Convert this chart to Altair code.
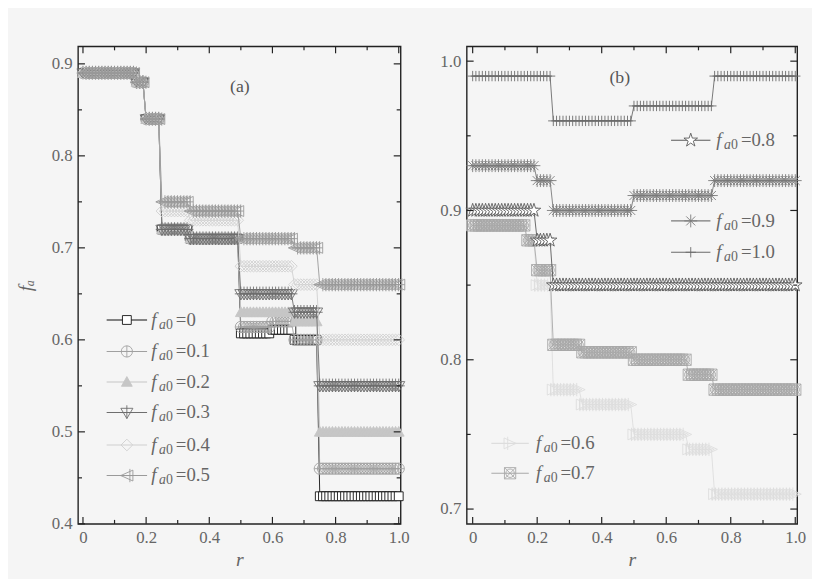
import altair as alt
import pandas as pd
import numpy as np

# ---------------- data ----------------
R_STEP = 0.01  # r is sampled every 0.01 (one marker per sample)

# panel (a): step breakpoints in r, and f_a on each step
A_BREAKS = [0.0, 0.17, 0.20, 0.25, 0.34, 0.50, 0.60, 0.67, 0.75]
A_SERIES = ["0", "0.1", "0.2", "0.3", "0.4", "0.5"]
A_VAL_0 = [0.89, 0.88, 0.84, 0.72, 0.71, 0.607, 0.611, 0.60, 0.43]
A_VAL_01 = [0.89, 0.88, 0.84, 0.72, 0.71, 0.614, 0.620, 0.60, 0.46]
A_VAL_02 = [0.89, 0.88, 0.84, 0.72, 0.71, 0.63, 0.63, 0.62, 0.50]
A_VAL_03 = [0.89, 0.88, 0.84, 0.72, 0.71, 0.65, 0.65, 0.63, 0.55]
A_VAL_04 = [0.89, 0.88, 0.84, 0.74, 0.73, 0.68, 0.68, 0.66, 0.60]
A_VAL_05 = [0.89, 0.88, 0.84, 0.75, 0.74, 0.71, 0.71, 0.70, 0.66]

# panel (b)
B_BREAKS = [0.0, 0.17, 0.20, 0.25, 0.34, 0.50, 0.67, 0.75]
B_SERIES = ["0.6", "0.7", "0.8", "0.9", "1.0"]
B_VAL_06 = [0.89, 0.88, 0.85, 0.78, 0.77, 0.75, 0.74, 0.71]
B_VAL_07 = [0.89, 0.88, 0.86, 0.81, 0.805, 0.80, 0.79, 0.78]
B_VAL_08 = [0.90, 0.90, 0.88, 0.85, 0.85, 0.85, 0.85, 0.85]
B_VAL_09 = [0.93, 0.93, 0.92, 0.90, 0.90, 0.91, 0.91, 0.92]
B_VAL_10 = [0.99, 0.99, 0.99, 0.96, 0.96, 0.97, 0.97, 0.99]

# tick values
X_MAJOR = [0.0, 0.2, 0.4, 0.6, 0.8, 1.0]
X_MINOR = [0.1, 0.3, 0.5, 0.7, 0.9]
A_Y_MAJOR = [0.4, 0.5, 0.6, 0.7, 0.8, 0.9]
A_Y_MINOR = [0.45, 0.55, 0.65, 0.75, 0.85]
B_Y_MAJOR = [0.7, 0.8, 0.9, 1.0]
B_Y_MINOR = [0.75, 0.85, 0.95]

# legend entries (position of line, marker, text in data units)
A_LEG_Y = [0.6216, 0.5874, 0.5542, 0.521, 0.4857, 0.4525]
B_LEG_SERIES_TOP = ["0.8", "0.9", "1.0"]
B_LEG_Y_TOP = [0.947, 0.893, 0.872]
B_LEG_SERIES_BOT = ["0.6", "0.7"]
B_LEG_Y_BOT = [0.744, 0.724]

# ---------------- styles ----------------
FONT = "Liberation Serif, DejaVu Serif, serif"
LABEL_COLOR = "#666666"

SQUARE = "M-1,-1H1V1H-1Z"
CIRC_PLUS = "M-1,0A1,1,0,1,0,1,0A1,1,0,1,0,-1,0ZM-1,0H1M0,-1V1"
TRI_UP = "M0,-1L1,0.8L-1,0.8Z"
TRI_DOWN_PLUS = "M-1,-0.7L1,-0.7L0,1ZM0,-1.2V1M-1,0H1"
DIAMOND = "M0,-1L1,0L0,1L-1,0Z"
TRI_LEFT_PLUS = "M-1,0L1,-0.9L1,0.9ZM0.5,-1.1V1.1M-1,0H1"
TRI_RIGHT_BAR = "M1,0L-1,-0.9L-1,0.9ZM-0.4,-1.1V1.1"
SQ_CIRC_X = ("M-1,-1H1V1H-1ZM-0.75,0A0.75,0.75,0,1,0,0.75,0A0.75,0.75,0,1,0,-0.75,0Z"
             "M-1,-1L1,1M-1,1L1,-1")
STAR = ("M0,-1L0.223,-0.307L0.951,-0.309L0.361,0.117L0.588,0.809L0,0.38"
        "L-0.588,0.809L-0.361,0.117L-0.951,-0.309L-0.223,-0.307Z")
ASTER = "M0,-1V1M-1,0H1M-0.7,-0.7L0.7,0.7M-0.7,0.7L0.7,-0.7"
PLUS = "M0,-1V1M-1,0H1"

STYLE = {
    "0":   dict(stroke="#111111", fill="#ffffff", shape=SQUARE, size=80),
    "0.1": dict(stroke="#a0a0a0", fill=None, shape=CIRC_PLUS, size=130),
    "0.2": dict(stroke="#c6c6c6", fill="#c6c6c6", shape=TRI_UP, size=120),
    "0.3": dict(stroke="#6e6e6e", fill=None, shape=TRI_DOWN_PLUS, size=150),
    "0.4": dict(stroke="#d0d0d0", fill=None, shape=DIAMOND, size=140),
    "0.5": dict(stroke="#9a9a9a", fill=None, shape=TRI_LEFT_PLUS, size=150),
    "0.6": dict(stroke="#dddddd", fill=None, shape=TRI_RIGHT_BAR, size=150),
    "0.7": dict(stroke="#a8a8a8", fill=None, shape=SQ_CIRC_X, size=130),
    "0.8": dict(stroke="#5a5a5a", fill="#ffffff", shape=STAR, size=210),
    "0.9": dict(stroke="#7a7a7a", fill=None, shape=ASTER, size=170),
    "1.0": dict(stroke="#6a6a6a", fill=None, shape=PLUS, size=110),
}

A_W, B_W, H = 327, 335, 484
A_XDOM = [-0.0156, 1.006]
B_XDOM = [-0.0184, 1.006]
A_YDOM = [0.4, 0.919]
B_YDOM = [0.6901, 1.0099]


def expand(breaks, values):
    r = np.round(np.arange(0, 1.0 + R_STEP / 2, R_STEP), 2)
    idx = np.searchsorted(np.array(breaks), r + 1e-9, side="right") - 1
    return pd.DataFrame({"r": r, "fa": np.array(values)[idx]})


A_DATA = dict(zip(A_SERIES, [A_VAL_0, A_VAL_01, A_VAL_02, A_VAL_03, A_VAL_04, A_VAL_05]))
B_DATA = dict(zip(B_SERIES, [B_VAL_06, B_VAL_07, B_VAL_08, B_VAL_09, B_VAL_10]))


def point_mark(st):
    kw = dict(shape=st["shape"], size=st["size"], stroke=st["stroke"],
              strokeWidth=0.9, opacity=1)
    if st["fill"]:
        kw.update(filled=True, fill=st["fill"])
    else:
        kw.update(filled=False)
    return alt.Chart().mark_point(**kw)


def build_panel(series_data, breaks, xdom, ydom, ymaj, ymin, width, ytitle,
                legend_rows, panel_text, panel_pos):
    xs = alt.Scale(domain=xdom, nice=False, zero=False)
    ys = alt.Scale(domain=ydom, nice=False, zero=False)
    xaxis = alt.Axis(values=X_MAJOR, ticks=False, domain=False, grid=False,
                     labelExpr="datum.value == 0 ? '0' : format(datum.value, '.1f')",
                     labelFont=FONT, labelFontSize=17, labelColor=LABEL_COLOR,
                     labelPadding=6, labelFlush=False, title="r", titleFont=FONT,
                     titleFontStyle="italic", titleFontWeight="normal",
                     titleFontSize=20, titleColor=LABEL_COLOR, titlePadding=4)
    yaxis_kw = dict(values=ymaj, ticks=False, domain=False, grid=False,
                    labelExpr="format(datum.value, '.1f')", labelFont=FONT,
                    labelFontSize=17, labelColor=LABEL_COLOR, labelPadding=6,
                    labelFlush=False)
    if ytitle:
        yaxis_kw.update(title=ytitle, titleFont=FONT, titleFontStyle="italic",
                        titleFontWeight="normal", titleFontSize=20,
                        titleColor=LABEL_COLOR, titlePadding=16)
    else:
        yaxis_kw.update(title=None)
    yaxis = alt.Axis(**yaxis_kw)

    def X(f):
        return alt.X(f, type="quantitative", scale=xs, axis=xaxis)

    def Y(f):
        return alt.Y(f, type="quantitative", scale=ys, axis=yaxis)

    layers = []
    for name, vals in series_data.items():
        st = STYLE[name]
        df = expand(breaks, vals)
        layers.append(alt.Chart(df).mark_line(color=st["stroke"], strokeWidth=0.9)
                      .encode(x=X("r"), y=Y("fa")))
        layers.append(point_mark(st).properties(data=df).encode(x=X("r"), y=Y("fa")))

    # inward ticks on all four sides
    for vals, ln in [(X_MAJOR, 7), (X_MINOR, 4)]:
        tdf = pd.DataFrame({"v": vals})
        layers.append(alt.Chart(tdf).mark_rule(color="#222222", strokeWidth=1.2)
                      .encode(x=X("v"), y=alt.value(H), y2=alt.value(H - ln)))
        layers.append(alt.Chart(tdf).mark_rule(color="#222222", strokeWidth=1.2)
                      .encode(x=X("v"), y=alt.value(0), y2=alt.value(ln)))
    for vals, ln in [(ymaj, 7), (ymin, 4)]:
        tdf = pd.DataFrame({"v": vals})
        layers.append(alt.Chart(tdf).mark_rule(color="#222222", strokeWidth=1.2)
                      .encode(y=Y("v"), x=alt.value(0), x2=alt.value(ln)))
        layers.append(alt.Chart(tdf).mark_rule(color="#222222", strokeWidth=1.2)
                      .encode(y=Y("v"), x=alt.value(width), x2=alt.value(width - ln)))

    # legend
    for name, y, x1, x2, xt in legend_rows:
        st = STYLE[name]
        ldf = pd.DataFrame({"x1": [x1], "x2": [x2], "xm": [(x1 + x2) / 2],
                            "xt": [xt], "y": [y], "val": ["=" + name]})
        layers.append(alt.Chart(ldf).mark_rule(color=st["stroke"], strokeWidth=1.1)
                      .encode(x=X("x1"), x2="x2", y=Y("y")))
        layers.append(point_mark(st).properties(data=ldf).encode(x=X("xm"), y=Y("y")))
        layers.append(alt.Chart(ldf).mark_text(text="f", font=FONT, fontStyle="italic",
                                               fontSize=19, color=LABEL_COLOR,
                                               align="left", baseline="middle")
                      .encode(x=X("xt"), y=Y("y")))
        layers.append(alt.Chart(ldf).mark_text(text="a", font=FONT, fontStyle="italic",
                                               fontSize=14, color=LABEL_COLOR,
                                               align="left", baseline="middle",
                                               dx=8, dy=5)
                      .encode(x=X("xt"), y=Y("y")))
        layers.append(alt.Chart(ldf).mark_text(text="0", font=FONT,
                                               fontSize=14, color=LABEL_COLOR,
                                               align="left", baseline="middle",
                                               dx=15, dy=5)
                      .encode(x=X("xt"), y=Y("y")))
        layers.append(alt.Chart(ldf).mark_text(font=FONT, fontSize=19, color=LABEL_COLOR,
                                               align="left", baseline="middle", dx=25)
                      .encode(x=X("xt"), y=Y("y"), text="val:N"))

    pdf = pd.DataFrame({"x": [panel_pos[0]], "y": [panel_pos[1]], "t": [panel_text]})
    layers.append(alt.Chart(pdf).mark_text(font=FONT, fontSize=18, color="#555555",
                                           align="center", baseline="middle")
                  .encode(x=X("x"), y=Y("y"), text="t:N"))

    return alt.layer(*layers).properties(width=width, height=H)


a_leg = [(s, y, 0.075, 0.203, 0.216) for s, y in zip(A_SERIES, A_LEG_Y)]
b_leg = ([(s, y, 0.615, 0.737, 0.755) for s, y in zip(B_LEG_SERIES_TOP, B_LEG_Y_TOP)] +
         [(s, y, 0.058, 0.174, 0.196) for s, y in zip(B_LEG_SERIES_BOT, B_LEG_Y_BOT)])

panel_a = build_panel(A_DATA, A_BREAKS, A_XDOM, A_YDOM, A_Y_MAJOR, A_Y_MINOR, A_W,
                      "fₐ", a_leg, "(a)", (0.497, 0.875))
panel_b = build_panel(B_DATA, B_BREAKS, B_XDOM, B_YDOM, B_Y_MAJOR, B_Y_MINOR, B_W,
                      None, b_leg, "(b)", (0.456, 0.989))

chart = alt.hconcat(panel_a, panel_b, spacing=67, bounds="flush").properties(
    padding={"left": 7, "top": 33, "right": 5, "bottom": 5},
    background="#f5f5f5",
).configure_view(stroke="#222222", strokeWidth=1.4)

chart.save("out.html", embed_options={"renderer": "svg", "actions": False})
